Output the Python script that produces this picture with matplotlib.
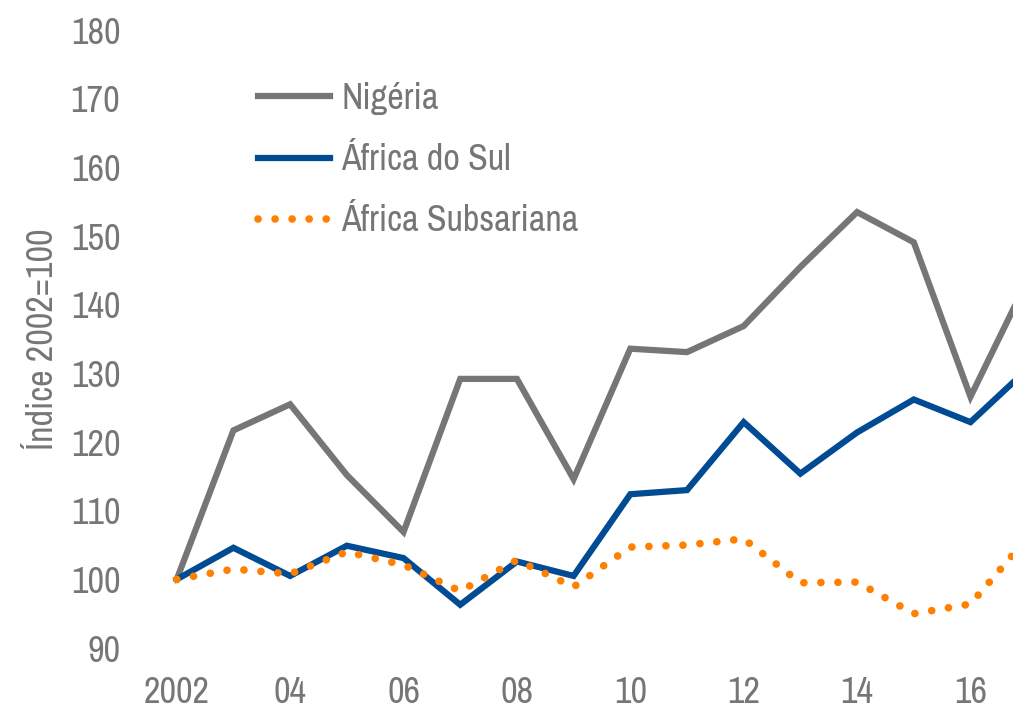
import matplotlib.pyplot as plt

plt.rcParams['font.family'] = ['Archivo Narrow', 'DejaVu Sans']

anos = list(range(2002, 2018))
nigeria = [100, 121.7, 125.5, 115.2, 106.9, 129.2, 129.2, 114.6,
           133.6, 133.1, 136.9, 145.5, 153.5, 149.1, 126.6, 143.5]
africa_sul = [100, 104.6, 100.5, 104.9, 103.1, 96.3, 102.6, 100.5,
              112.4, 113.0, 122.9, 115.4, 121.4, 126.2, 122.9, 130.6]
subsariana = [100, 101.5, 100.8, 104.0, 102.1, 98.3, 102.8, 98.9,
              104.7, 105.0, 105.9, 99.5, 99.6, 95.0, 96.4, 106.0]
xticks = [2002, 2004, 2006, 2008, 2010, 2012, 2014, 2016]
xlabels = ["2002", "04", "06", "08", "10", "12", "14", "16"]
yticks = list(range(90, 190, 10))

cinza = "#767676"

fig = plt.figure(figsize=(10.13, 7.11), dpi=100)
ax = fig.add_axes([0.142, 0.0886, 0.858, 0.869])

ax.plot(anos, nigeria, color="#767676", lw=4.5, label="Nigéria",
        solid_joinstyle="miter", clip_on=False)
ax.plot(anos, africa_sul, color="#004B93", lw=4.5, label="África do Sul",
        solid_joinstyle="miter", clip_on=False)
ax.plot(anos, subsariana, color="#FF8000", lw=5.5, label="África Subsariana",
        linestyle=(0, (0.01, 2.22)), dash_capstyle="round", clip_on=False)

ax.set_xlim(2001.42, 2016.75)
ax.set_ylim(90, 180)
ax.set_xticks(xticks)
ax.set_xticklabels(xlabels)
ax.set_yticks(yticks)
ax.tick_params(length=0, labelsize=26, labelcolor=cinza)
ax.tick_params(axis="x", pad=20)
ax.tick_params(axis="y", pad=17)
for s in ax.spines.values():
    s.set_visible(False)

ax.set_ylabel("Índice 2002=100", fontsize=26, color=cinza, labelpad=8)

leg = ax.legend(loc="upper left", bbox_to_anchor=(258 / 1013, 1 - 82 / 711),
                bbox_transform=fig.transFigure, frameon=False, fontsize=26,
                handlelength=2.0, handletextpad=0.3, labelspacing=0.78,
                borderpad=0, borderaxespad=0)
for t in leg.get_texts():
    t.set_color(cinza)

fig.savefig("out.png", dpi=100)
